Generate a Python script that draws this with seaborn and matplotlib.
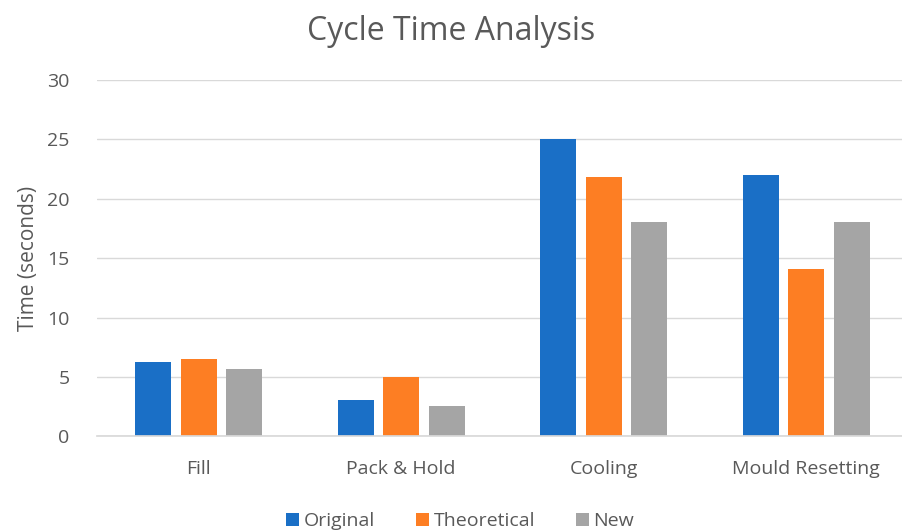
import matplotlib
matplotlib.use("Agg")
import matplotlib.pyplot as plt
import seaborn as sns
import pandas as pd

categories = ["Fill", "Pack & Hold", "Cooling", "Mould Resetting"]
original = [6.3, 3.1, 25.0, 22.0]
theoretical = [6.5, 5.0, 21.8, 14.1]
new = [5.65, 2.6, 18.0, 18.0]
series_names = ["Original", "Theoretical", "New"]
colors = ["#1A6FC6", "#FD7E23", "#A5A5A5"]

rows = []
for name, vals in zip(series_names, [original, theoretical, new]):
    for c, v in zip(categories, vals):
        rows.append({"Category": c, "Series": name, "Time": v})
df = pd.DataFrame(rows)

sns.set_theme(style="white")
plt.rcParams['font.family'] = ['Open Sans', 'DejaVu Sans']
text_color = "#595959"

fig = plt.figure(figsize=(9.02, 5.31), dpi=100)
ax = fig.add_axes([0.108, 0.178, 0.898, 0.672])
sns.barplot(data=df, x="Category", y="Time", hue="Series", order=categories,
            hue_order=series_names, palette=colors, width=0.675, gap=0.21,
            ax=ax, saturation=1, edgecolor="none")

ax.set_ylim(0, 30)
ax.set_yticks([0, 5, 10, 15, 20, 25, 30])
ax.yaxis.grid(True, color="#D9D9D9", linewidth=1)
ax.set_axisbelow(True)
for s in ["top", "right", "left"]:
    ax.spines[s].set_visible(False)
ax.spines["bottom"].set_color("#D9D9D9")
ax.tick_params(axis="y", length=0, labelsize=14, colors=text_color, pad=20)
ax.tick_params(axis="x", length=0, labelsize=14, colors=text_color, pad=17)
ax.set_xlabel("")
ax.set_ylabel("Time (seconds)", fontsize=15, color=text_color, labelpad=6)
ax.set_xlim(-0.5, 3.5)

fig.suptitle("Cycle Time Analysis", fontsize=23, color=text_color, y=0.972)

handles, labels = ax.get_legend_handles_labels()
ax.legend(handles, labels, loc="lower center", bbox_to_anchor=(0.448, -0.312),
          ncol=3, frameon=False, fontsize=14, labelcolor=text_color,
          handlelength=0.65, handleheight=0.65, handletextpad=0.25, columnspacing=2.1)

fig.savefig("out.png", dpi=100)
